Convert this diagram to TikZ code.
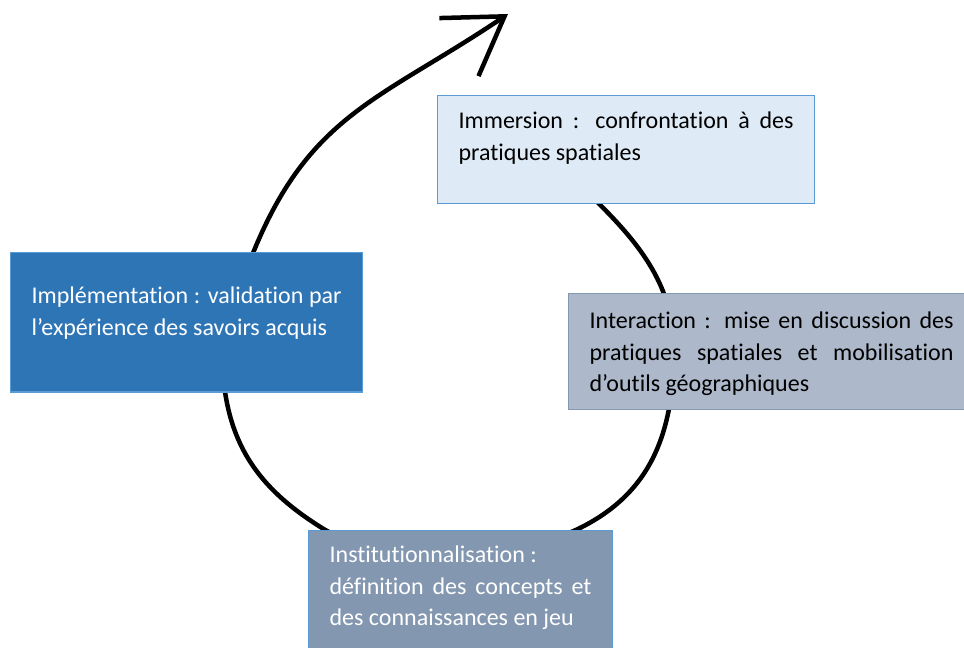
\documentclass[tikz,border=0pt]{standalone}
\usepackage{fontspec}
\setmainfont{Carlito}[Ligatures=NoCommon]
\usepackage{xcolor}
\usepackage{tikz}
\usetikzlibrary{arrows.meta}

\definecolor{immfill}{HTML}{DEEBF7}
\definecolor{boxline}{HTML}{5B9BD5}
\definecolor{implfill}{HTML}{2E75B6}
\definecolor{interfill}{HTML}{ADB9CA}
\definecolor{interline}{HTML}{8497B0}
\definecolor{instfill}{HTML}{8497B0}

\newcommand{\stagefont}{\fontsize{24}{31.7}\selectfont\hyphenpenalty=10000\exhyphenpenalty=10000}

\begin{document}
\begin{tikzpicture}[
    x=1pt, y=1pt,
    stage/.style={
        draw=boxline,
        line width=1.2pt,
        anchor=north west,
        align=justify,
        inner ysep=0pt,
        inner xsep=21pt,
        font=\stagefont
    },
    arrow/.style={-{Straight Barb[length=55pt,width=70pt]}, line width=4.5pt, line cap=round, line join=round}
]
\fill[white] (0,0) rectangle (964,648);
\useasboundingbox (0,0) rectangle (964,648);

% spirale
\coordinate (start) at (570,473);
\coordinate (rgt) at (674,298);
\coordinate (b1) at (580,120);
\coordinate (b2) at (322,120);
\coordinate (lft) at (222,300);
\coordinate (tip) at (508,634);
\draw[arrow] (start) .. controls +(-45:70) and +(90:80) .. (rgt)
    .. controls +(-90:98) and +(26.6:67) .. (b1)
    .. controls +(206.6:70) and +(-32:70) .. (b2)
    .. controls +(148:80) and +(-90:90) .. (lft)
    .. controls +(75:240) and +(214:180) .. (tip);

\node[stage, fill=immfill, text width=335pt, text height=33pt, text depth=75pt] (imm) at (437,553)
    {Immersion~: confrontation à des pratiques spatiales};
\node[stage, fill=implfill, text=white, text width=310pt, text height=51pt, text depth=88.5pt] (impl) at (10,396)
    {Implémentation~: validation par l’expérience des savoirs acquis};
\node[stage, fill=interfill, draw=interline, text width=364pt, text height=35pt, text depth=81pt] (inter) at (568,355)
    {Interaction~: mise en discussion des pratiques spatiales et mobilisation d’outils géographiques};
\node[stage, fill=instfill, text=white, text width=262pt, text height=32pt, text depth=96pt] (inst) at (308,118)
    {Institutionnalisation~:\\ définition des concepts et des connaissances en jeu};
\end{tikzpicture}
\end{document}
